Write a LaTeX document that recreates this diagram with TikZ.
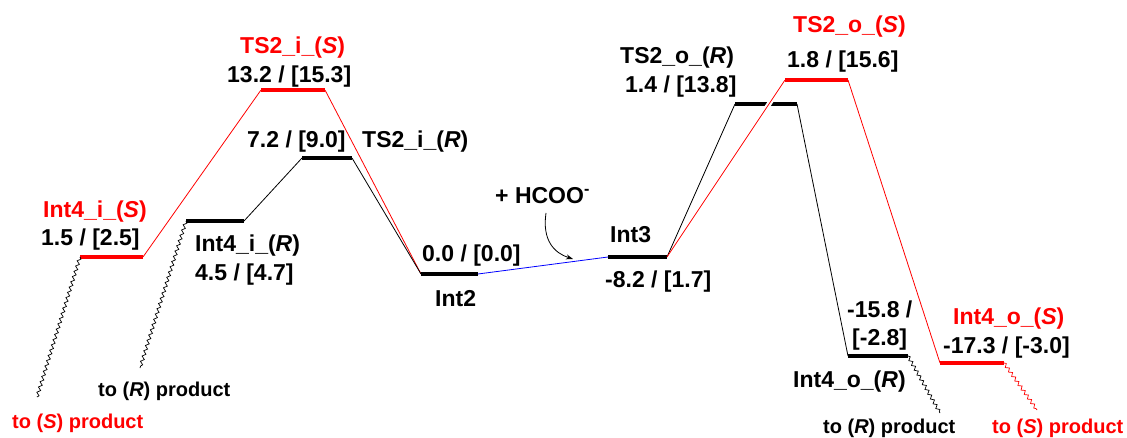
\documentclass[tikz,border=0pt]{standalone}
\usepackage{fontspec}
\setmainfont{Liberation Sans}
\usetikzlibrary{decorations.pathmorphing, arrows.meta}
\definecolor{pathS}{RGB}{255,0,0}
\definecolor{pathH}{RGB}{0,0,255}
\begin{document}
\begin{tikzpicture}[x=1pt, y=-1pt,
  lvl/.style={line width=3.5pt},
  link/.style={line width=0.8pt},
  wave/.style={line width=0.7pt, decorate,
    decoration={snake, amplitude=1.6pt, segment length=5.5pt}},
  lbl/.style={anchor=base west, inner sep=0pt, font=\fontsize{23}{27}\selectfont\bfseries},
  prod/.style={anchor=base west, inner sep=0pt, font=\fontsize{20}{24}\selectfont\bfseries},
]
\useasboundingbox (0,0) rectangle (1127,438);

% energy levels (left / right ends)
\coordinate (iSa) at (80,257);   \coordinate (iSb) at (143,257);   % Int4_i_(S)
\coordinate (iRa) at (186,221);  \coordinate (iRb) at (244,221);   % Int4_i_(R)
\coordinate (tiSa) at (261,90);  \coordinate (tiSb) at (325,90);   % TS2_i_(S)
\coordinate (tiRa) at (302,158); \coordinate (tiRb) at (352,158);  % TS2_i_(R)
\coordinate (i2a) at (421,274);  \coordinate (i2b) at (478,274);   % Int2
\coordinate (i3a) at (608,257);  \coordinate (i3b) at (667,257);   % Int3
\coordinate (toRa) at (735,104); \coordinate (toRb) at (797,104);  % TS2_o_(R)
\coordinate (toSa) at (785,80);  \coordinate (toSb) at (848,80);   % TS2_o_(S)
\coordinate (oRa) at (848,356);  \coordinate (oRb) at (908,356);   % Int4_o_(R)
\coordinate (oSa) at (940,363);  \coordinate (oSb) at (1004,363);  % Int4_o_(S)

% free ends of the wavy product lines
\coordinate (pSl) at (37,397);
\coordinate (pRl) at (140,368);
\coordinate (pRr) at (940,413);
\coordinate (pSr) at (1037,410);

% connectors
\draw[link, pathS] (iSb) -- (tiSa);
\draw[link, pathS] (tiSb) -- (i2a);
\draw[link] (iRb) -- (tiRa);
\draw[link] (tiRb) -- (i2a);
\draw[link, pathH] (i2b) -- (i3a);
\draw[link] (i3b) -- (toRa);
\draw[link] (toRb) -- (oRa);
\draw[link, pathS] (toSb) -- (oSa);

% bars
\draw[lvl, pathS] (iSa) -- (iSb);
\draw[lvl] (iRa) -- (iRb);
\draw[lvl, pathS] (tiSa) -- (tiSb);
\draw[lvl] (tiRa) -- (tiRb);
\draw[lvl] (i2a) -- (i2b);
\draw[lvl] (i3a) -- (i3b);
\draw[lvl] (toRa) -- (toRb);
\draw[lvl, pathS] (toSa) -- (toSb);
\draw[lvl] (oRa) -- (oRb);
\draw[lvl, pathS] (oSa) -- (oSb);

% red path crossing the TS2_o_(R) bar, with a white gap
\begin{scope}
  \clip (740,96) rectangle (795,112);
  \draw[white, line width=5pt] (i3b) -- (toSa);
\end{scope}
\draw[link, pathS] (i3b) -- (toSa);

% wavy lines towards the products
\draw[wave] (iSa) -- (pSl);
\draw[wave] (iRa) -- (pRl);
\draw[wave] (oRb) -- (pRr);
\draw[wave, pathS] (oSb) -- (pSr);

% labels
\node[lbl, pathS] (tiSn) at (240,54) {TS2\_i\_(\textit{S})};
\node[lbl] (tiSe) at (227,83) {13.2 / [15.3]};
\node[lbl] (tiRe) at (247,148) {7.2 / [9.0]};
\node[lbl] (tiRn) at (362,148) {TS2\_i\_(\textit{R})};
\node[lbl, pathS] (iSn) at (43,218) {Int4\_i\_(\textit{S})};
\node[lbl] (iSe) at (41,246) {1.5 / [2.5]};
\node[lbl] (iRn) at (195,252) {Int4\_i\_(\textit{R})};
\node[lbl] (iRe) at (195,281) {4.5 / [4.7]};
\node[prod] (pRlt) at (98,396) {to (\textit{R}) product};
\node[prod, pathS] (pSlt) at (12,428) {to (\textit{S}) product};

\node[lbl] (hcoo) at (495,204) {+ HCOO\textsuperscript{-}};
\node[lbl] (i2e) at (422,262) {0.0 / [0.0]};
\node[lbl] (i2n) at (435,306) {Int2};
\node[lbl] (i3n) at (610,243) {Int3};
\node[lbl] (i3e) at (605,288) {-8.2 / [1.7]};

\node[lbl] (toRn) at (620,64) {TS2\_o\_(\textit{R})};
\node[lbl] (toRe) at (625,93) {1.4 / [13.8]};
\node[lbl, pathS] (toSn) at (793,33) {TS2\_o\_(\textit{S})};
\node[lbl] (toSe) at (787,68) {1.8 / [15.6]};

\node[lbl] (oRe1) at (847,317) {-15.8 /};
\node[lbl] (oRe2) at (852,345) {[-2.8]};
\node[lbl] (oRn) at (793,387) {Int4\_o\_(\textit{R})};
\node[lbl, pathS] (oSn) at (953,324) {Int4\_o\_(\textit{S})};
\node[lbl] (oSe) at (943,353) {-17.3 / [-3.0]};
\node[prod] (pRrt) at (823,433) {to (\textit{R}) product};
\node[prod, pathS] (pSrt) at (992,433) {to (\textit{S}) product};

% formate addition arrow
\coordinate (hA) at (546,213);
\coordinate (hB) at (573,259);
\draw[link, -{Stealth[length=7pt, width=5pt]}] (hA) .. controls (542,240) and (554,253) .. (hB);
\end{tikzpicture}
\end{document}
